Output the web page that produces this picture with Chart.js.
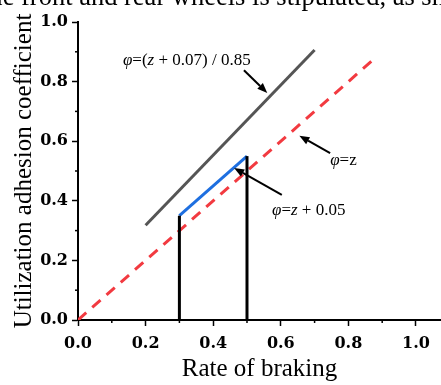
<!DOCTYPE html>
<html>
<head>
<meta charset="utf-8">
<script src="https://cdn.jsdelivr.net/npm/chart.js@4.4.0/dist/chart.umd.min.js"></script>
<style>
html, body { margin: 0; padding: 0; background: #fff; overflow: hidden; }
#wrap { position: relative; width: 441px; height: 385px; overflow: hidden; }
#caption { position: absolute; top: -17px; left: 0; font: 26.5px "Liberation Serif"; line-height: 27px; white-space: nowrap; color: #000; }
#chart { position: absolute; left: 0; top: 0; }
</style>
</head>
<body>
<div id="wrap">
  <canvas id="chart" width="441" height="385"></canvas>
  <div id="caption"><span id="cut">th</span>e front and rear wheels is stipulated, as shown</div>
</div>
<script>
// 축 눈금
const majorTicks = [0, 0.2, 0.4, 0.6, 0.8, 1.0];
const minorTicks = [0.1, 0.3, 0.5, 0.7, 0.9];

// φ = (z + 0.07) / 0.85
const ecoZ = [0.2, 0.7];
const ecoPhi = [0.318, 0.906];

// φ = z
const idealZ = [0, 0.88];
const idealPhi = [0, 0.88];

// φ = z + 0.05
const limitZ = [0.3, 0.5];
const limitPhi = [0.35, 0.55];

// 구간 경계 수직선
const edgeZ = [0.3, 0.5];
const edgeTop = [0.35, 0.55];

// 수식 라벨 : [텍스트, 이탤릭]
const notes = [
    { parts: [['φ', 1], ['=(', 0], ['z', 1], [' + 0.07) / 0.85', 0]], at: [0.133, 0.857], arrow: [[0.491, 0.838], [0.560, 0.762]] },
    { parts: [['φ', 1], ['=z', 0]], at: [0.746, 0.521], arrow: [[0.746, 0.560], [0.655, 0.618]] },
    { parts: [['φ', 1], ['=', 0], ['z', 1], [' + 0.05', 0]], at: [0.574, 0.353], arrow: [[0.603, 0.420], [0.462, 0.510]] }
];

function toPoints(xs, ys) {
    return xs.map((x, i) => ({ x: x, y: ys[i] }));
}

function lineSet(points, color, extra) {
    return Object.assign({
        data: points,
        showLine: true,
        borderColor: color,
        borderWidth: 3,
        pointRadius: 0,
        fill: false
    }, extra || {});
}

// 보조 눈금 + 수식 라벨
const extrasPlugin = {
    id: 'extras',
    afterDraw(chart) {
        const ctx = chart.ctx;
        const xs = chart.scales.x;
        const ys = chart.scales.y;
        const area = chart.chartArea;

        ctx.save();
        ctx.strokeStyle = '#000';
        ctx.lineWidth = 1.5;
        minorTicks.forEach(v => {
            const px = xs.getPixelForValue(v);
            ctx.beginPath();
            ctx.moveTo(px, area.bottom);
            ctx.lineTo(px, area.bottom + 3);
            ctx.stroke();
            const py = ys.getPixelForValue(v);
            ctx.beginPath();
            ctx.moveTo(area.left, py);
            ctx.lineTo(area.left - 3, py);
            ctx.stroke();
        });

        notes.forEach(n => {
            // 텍스트
            let x = xs.getPixelForValue(n.at[0]);
            const y = ys.getPixelForValue(n.at[1]);
            ctx.fillStyle = '#000';
            ctx.textBaseline = 'alphabetic';
            n.parts.forEach(p => {
                ctx.font = (p[1] ? 'italic ' : '') + '17px "Liberation Serif"';
                ctx.fillText(p[0], x, y);
                x += ctx.measureText(p[0]).width;
            });

            // 화살표
            const x1 = xs.getPixelForValue(n.arrow[0][0]);
            const y1 = ys.getPixelForValue(n.arrow[0][1]);
            const x2 = xs.getPixelForValue(n.arrow[1][0]);
            const y2 = ys.getPixelForValue(n.arrow[1][1]);
            const ang = Math.atan2(y2 - y1, x2 - x1);
            const head = 10, half = 4;
            const bx = x2 - head * Math.cos(ang);
            const by = y2 - head * Math.sin(ang);
            ctx.lineWidth = 2;
            ctx.beginPath();
            ctx.moveTo(x1, y1);
            ctx.lineTo(bx, by);
            ctx.stroke();
            ctx.beginPath();
            ctx.moveTo(x2, y2);
            ctx.lineTo(bx + half * Math.sin(ang), by - half * Math.cos(ang));
            ctx.lineTo(bx - half * Math.sin(ang), by + half * Math.cos(ang));
            ctx.closePath();
            ctx.fill();
        });
        ctx.restore();
    }
};

function drawChart() {
    const verticals = edgeZ.map((z, i) => lineSet(toPoints([z, z], [0, edgeTop[i]]), '#000'));

    const data = {
        datasets: verticals.concat([
            lineSet(toPoints(ecoZ, ecoPhi), '#555555'),
            lineSet(toPoints(limitZ, limitPhi), '#1e6fe0'),
            lineSet(toPoints(idealZ, idealPhi), '#f23a40', { borderDash: [11, 8] })
        ])
    };

    const tickFont = { family: 'DejaVu Serif', size: 16, weight: 'bold' };
    const titleFont = { family: 'Liberation Serif', size: 25 };
    const fmt = v => v.toFixed(1);

    new Chart(document.getElementById('chart'), {
        type: 'scatter',
        data: data,
        plugins: [extrasPlugin],
        options: {
            responsive: false,
            animation: false,
            layout: { padding: { top: 22, right: 0, left: 0, bottom: 0 } },
            plugins: { legend: { display: false }, tooltip: { enabled: false } },
            scales: {
                x: {
                    type: 'linear',
                    min: 0,
                    max: 1.074,
                    afterBuildTicks: s => { s.ticks = majorTicks.map(v => ({ value: v })); },
                    afterFit: s => { s.height = 65; },
                    border: { color: '#000', width: 2 },
                    grid: { drawOnChartArea: false, tickLength: 6, tickColor: '#000', tickWidth: 1.5 },
                    ticks: { color: '#000', font: tickFont, padding: 8, maxRotation: 0, callback: fmt },
                    title: { display: true, text: 'Rate of braking', color: '#000', font: titleFont, padding: { top: 0, bottom: 1 } }
                },
                y: {
                    min: 0,
                    max: 1.0,
                    afterBuildTicks: s => { s.ticks = majorTicks.map(v => ({ value: v })); },
                    afterFit: s => { s.width = 78; },
                    border: { color: '#000', width: 2 },
                    grid: { drawOnChartArea: false, tickLength: 6, tickColor: '#000', tickWidth: 1.5 },
                    ticks: { color: '#000', font: tickFont, padding: 4, callback: fmt },
                    title: { display: true, text: 'Utilization adhesion coefficient', color: '#000', font: titleFont, padding: { top: 9, bottom: 0 } }
                }
            }
        }
    });
}

window.addEventListener('DOMContentLoaded', function() {
    // 잘린 캡션 위치 보정
    const cut = document.getElementById('cut');
    document.getElementById('caption').style.left = (3 - cut.offsetWidth) + 'px';
    drawChart();
});
</script>
</body>
</html>
